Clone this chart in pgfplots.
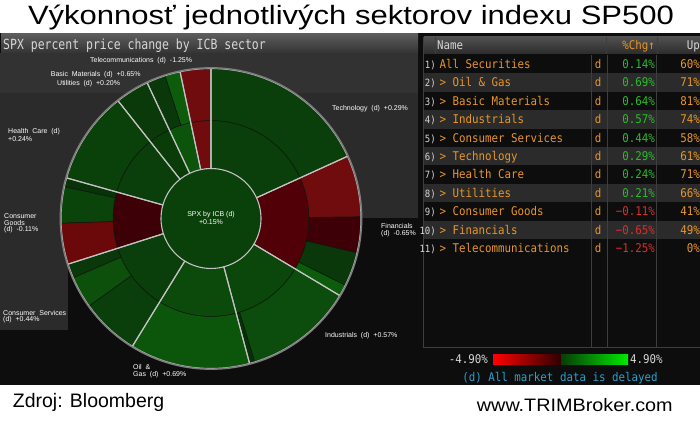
\documentclass[border=0pt]{standalone}
\usepackage{fontspec}
\setmainfont{Liberation Sans}
\newfontfamily\titlefont{Liberation Sans}[FakeStretch=1.17]
\newfontfamily\wwwfont{Liberation Sans}[FakeStretch=1.1]
\newfontfamily\bbfont{DejaVu Sans Mono}[FakeStretch=0.9]
\newfontfamily\hdfont{DejaVu Sans Mono}[FakeStretch=0.82]
\usepackage{pgfplots}
\pgfplotsset{compat=1.18}
\usepackage{pgfplotstable}

\definecolor{bborange}{RGB}{232,150,40}
\definecolor{bbgreen}{RGB}{40,190,40}
\definecolor{bbred}{RGB}{220,45,45}
\definecolor{bbgray}{RGB}{43,43,43}
\definecolor{bbgraylight}{RGB}{50,50,50}
\definecolor{bbblack}{RGB}{13,13,13}
\definecolor{bbtext}{RGB}{215,215,215}
\definecolor{bbcyan}{RGB}{40,160,205}
\definecolor{bbcol}{RGB}{62,62,62}
\definecolor{sepdark}{RGB}{14,24,14}
\definecolor{sepline}{RGB}{195,195,195}
\definecolor{outerline}{RGB}{125,125,125}

% wedge marks: geometry from the data row (angles a,b; radii ri,ro; colour R,G,B)
\newcommand{\wedgecolour}{%
  \pgfmathtruncatemacro\wRi{\wR}%
  \pgfmathtruncatemacro\wGi{\wG}%
  \pgfmathtruncatemacro\wBi{\wB}%
  \definecolor{wedgefill}{RGB}{\wRi,\wGi,\wBi}%
  \pgfsetfillcolor{wedgefill}%
}
\newcommand{\wedgepath}{%
  \pgfpathmoveto{\pgfpointpolar{\wa}{\wri pt}}%
  \pgfpatharc{\wa}{\wb}{\wri pt}%
  \pgfpathlineto{\pgfpointpolar{\wb}{\wro pt}}%
  \pgfpatharc{\wb}{\wa}{\wro pt}%
  \pgfpathclose
}
\pgfdeclareplotmark{wedge}{\wedgecolour\wedgepath\pgfusepathqfillstroke}
\pgfdeclareplotmark{wedgeline}{\wedgepath\pgfusepathqstroke}
\pgfdeclareplotmark{disc}{\wedgecolour\pgfpathcircle{\pgfpointorigin}{\wro pt}\pgfusepathqfill}

% centre
\pgfplotstableread{
x y a b ri ro R G B
211 218.5 0 360 1 50 10 64 10
}\centre

% ring 1: ICB sectors
\pgfplotstableread{
x y a b ri ro R G B
211 218.5 24.5 90 50 98 10 62 10
211 218.5 90 101.9 50 98 112 12 14
211 218.5 101.9 115.2 50 98 12 84 12
211 218.5 115.2 128.3 50 98 10 60 10
211 218.5 128.3 164.3 50 98 10 62 10
211 218.5 164.3 197.7 50 98 60 0 6
211 218.5 197.7 238.4 50 98 10 62 10
211 218.5 238.4 284.9 50 98 12 74 12
211 218.5 284.9 329.1 50 98 11 70 11
211 218.5 329.1 384.5 50 98 80 0 6
}\ringone

% ring 2: sub-sectors
\pgfplotstableread{
x y a b ri ro R G B
211 218.5 24.5 90 98 150 10 62 10
211 218.5 90 101.9 98 150 112 12 14
211 218.5 101.9 107.9 98 150 12 92 12
211 218.5 107.9 115.2 98 150 10 56 10
211 218.5 115.2 128.3 98 150 10 58 10
211 218.5 128.3 164.3 98 150 10 64 10
211 218.5 164.3 167.8 98 150 8 50 8
211 218.5 167.8 181.8 98 150 10 68 10
211 218.5 181.8 197.7 98 150 106 8 10
211 218.5 197.7 203.3 98 150 10 56 10
211 218.5 203.3 215.7 98 150 12 80 12
211 218.5 215.7 238.4 98 150 10 62 10
211 218.5 238.4 284.9 98 150 12 86 12
211 218.5 284.9 287.0 98 150 8 48 8
211 218.5 287.0 329.1 98 150 12 76 12
211 218.5 329.1 333.6 98 150 12 92 12
211 218.5 333.6 346.8 98 150 10 56 10
211 218.5 346.8 360.7 98 150 62 0 6
211 218.5 360.7 384.5 98 150 112 12 14
}\ringtwo

% sector outlines
\pgfplotstableread{
x y a b ri ro R
211 218.5 24.5 90 50 150 1
211 218.5 90 101.9 50 150 2
211 218.5 101.9 115.2 50 150 3
211 218.5 115.2 128.3 50 150 4
211 218.5 128.3 164.3 50 150 5
211 218.5 164.3 197.7 50 150 6
211 218.5 197.7 238.4 50 150 7
211 218.5 238.4 284.9 50 150 8
211 218.5 284.9 329.1 50 150 9
211 218.5 329.1 384.5 50 150 10
}\outlines

\pgfplotstableread{
x y a b ri ro R
211 218.5 0 360 150.6 150.6 1
}\outerring

\pgfplotsset{
  wedgevis/.style={
    scatter, only marks, point meta=explicit,
    point meta min=0, point meta max=300,
    visualization depends on={\thisrow{a}\as\wa},
    visualization depends on={\thisrow{b}\as\wb},
    visualization depends on={\thisrow{ri}\as\wri},
    visualization depends on={\thisrow{ro}\as\wro},
  },
  wedgecol/.style={
    visualization depends on={\thisrow{R}\as\wR},
    visualization depends on={\thisrow{G}\as\wG},
    visualization depends on={\thisrow{B}\as\wB},
  },
}

\begin{document}
\begin{tikzpicture}
% ---------- backgrounds ----------
\begin{scope}[x=1pt,y=-1pt,shift={(0,420pt)}]
\fill[white] (0,0) rectangle (700,420);
\fill[bbblack] (0,33) rectangle (700,385);
% left panel
\fill[bbgray] (0,53) rectangle (418,218);
\fill[bbgraylight] (0,53) rectangle (418,93);
\fill[bbgray] (0,218) rectangle (68,330);
\shade[top color={rgb,255:red,92;green,92;blue,92}, bottom color={rgb,255:red,52;green,52;blue,52}] (1,34) rectangle (418,53);
% right table
\shade[top color={rgb,255:red,80;green,80;blue,80}, bottom color={rgb,255:red,44;green,44;blue,44}] (424,37) rectangle (700,54);
\foreach \k in {2,4,6,8,10} {
  \fill[bbgray] (424,{55+(\k-1)*18.4}) rectangle (700,{55+\k*18.4});
}
\draw[bbcol, line width=0.8pt] (435.5,37) -- (435.5,54);
\draw[bbcol, line width=0.8pt] (606,37) -- (606,54);
\draw[bbcol, line width=0.8pt] (657,37) -- (657,54);
\draw[bbcol, line width=0.8pt] (591.7,55) -- (591.7,347);
\draw[bbcol, line width=0.8pt] (607.7,55) -- (607.7,347);
\draw[bbcol, line width=0.8pt] (656.7,55) -- (656.7,347);
\draw[bbcol, line width=0.8pt] (423.5,37) -- (423.5,347) -- (700,347);
% colour scale
\shade[left color={rgb,255:red,255;green,0;blue,0}, right color={rgb,255:red,45;green,0;blue,0}] (493,354) rectangle (561,364);
\shade[left color={rgb,255:red,8;green,60;blue,8}, right color={rgb,255:red,0;green,235;blue,0}] (561,354) rectangle (628,364);
\end{scope}

% ---------- sunburst (data) ----------
\begin{axis}[at={(0,0)}, anchor=south west, x=1pt, y=1pt, y dir=reverse,
  xmin=0, xmax=700, ymin=0, ymax=420, hide axis, clip=false]
\addplot[wedgevis, wedgecol, mark=disc, scatter/use mapped color={draw=sepdark}]
  table[x=x, y=y, meta=R] {\centre};
\addplot[wedgevis, wedgecol, mark=wedge,
  scatter/use mapped color={draw=sepdark, line width=0.5pt}]
  table[x=x, y=y, meta=R] {\ringone};
\addplot[wedgevis, wedgecol, mark=wedge,
  scatter/use mapped color={draw=sepdark, line width=0.5pt}]
  table[x=x, y=y, meta=R] {\ringtwo};
\addplot[wedgevis, mark=wedgeline,
  scatter/use mapped color={draw=sepline, line width=1.1pt}]
  table[x=x, y=y, meta=R] {\outlines};
\addplot[wedgevis, mark=wedgeline,
  scatter/use mapped color={draw=outerline, line width=1.6pt}]
  table[x=x, y=y, meta=R] {\outerring};
\end{axis}

% ---------- texts ----------
\begin{scope}[x=1pt,y=-1pt,shift={(0,420pt)}]
\node[anchor=base, inner sep=0, font=\titlefont\fontsize{26.5}{29}\selectfont] at (351,25) {Výkonnosť jednotlivých sektorov indexu SP500};
\node[anchor=base west, inner sep=0, font=\fontsize{19.5}{22}\selectfont] at (12.7,407.3) {Zdroj: Bloomberg};
\node[anchor=base west, inner sep=0, font=\wwwfont\fontsize{18}{20}\selectfont] at (476.7,411) {www.TRIMBroker.com};

\node[anchor=base west, inner sep=0, text=bbtext, font=\hdfont\fontsize{14}{16}\selectfont] at (3,49.5) {SPX percent price change by ICB sector};

% sunburst labels
\begin{scope}[every node/.style={inner sep=0, text=white, font=\fontsize{7}{7.5}\selectfont}]
\node[anchor=west] at (90,61) {Telecommunications~~(d)~~-1.25\%};
\node[anchor=west] at (50.7,74.3) {Basic~~Materials~~(d)~~+0.65\%};
\node[anchor=west] at (57,83.3) {Utilities~~(d)~~+0.20\%};
\node[anchor=west] at (8,131.7) {Health~~Care~~(d)};
\node[anchor=west] at (8,139.3) {+0.24\%};
\node[anchor=west] at (4,215.7) {Consumer};
\node[anchor=west] at (4,222.7) {Goods};
\node[anchor=west] at (4,230) {(d)~~-0.11\%};
\node[anchor=west] at (3,313.3) {Consumer~~Services};
\node[anchor=west] at (3,320) {(d)~~+0.44\%};
\node[anchor=west] at (133,367.3) {Oil~~\&};
\node[anchor=west] at (133,374.3) {Gas~~(d)~~+0.69\%};
\node[anchor=west] at (325,335.3) {Industrials~~(d)~~+0.57\%};
\node[anchor=west] at (381,226) {Financials};
\node[anchor=west] at (381,233.3) {(d)~~-0.65\%};
\node[anchor=west] at (332,109) {Technology~~(d)~~+0.29\%};
\node at (211,214.3) {SPX by ICB (d)};
\node at (211,221.7) {+0.15\%};
\end{scope}

% table
\begin{scope}[every node/.style={inner sep=0, font=\bbfont\fontsize{12}{14}\selectfont}]
\node[anchor=base west, text=bbtext] at (437,50) {Name};
\node[anchor=base east, text=bborange] at (655,50) {\%Chg↑};
\node[anchor=base east, text=bbtext] at (700,50) {Up};
\foreach \k/\nm/\chg/\cc/\up in {
 1/All Securities/0.14/bbgreen/60,
 2/> Oil \& Gas/0.69/bbgreen/71,
 3/> Basic Materials/0.64/bbgreen/81,
 4/> Industrials/0.57/bbgreen/74,
 5/> Consumer Services/0.44/bbgreen/58,
 6/> Technology/0.29/bbgreen/61,
 7/> Health Care/0.24/bbgreen/71,
 8/> Utilities/0.21/bbgreen/66,
 9/> Consumer Goods/−0.11/bbred/41,
 10/> Financials/−0.65/bbred/49,
 11/> Telecommunications/−1.25/bbred/0} {
  \pgfmathsetmacro\yy{64.2+(\k-1)*18.4+4.3}
  \node[anchor=base east, text=bbtext, font=\bbfont\fontsize{10}{12}\selectfont] at (436,\yy) {\k)};
  \node[anchor=base west, text=bborange] at (439.5,\yy) {\nm};
  \node[anchor=base, text=bborange] at (598,\yy) {d};
  \node[anchor=base east, text=\cc] at (655,\yy) {\chg\%};
  \node[anchor=base east, text=bborange] at (700,\yy) {\up\%};
}
\node[anchor=base east, text=bbtext] at (488,363.5) {-4.90\%};
\node[anchor=base west, text=bbtext] at (630,363.5) {4.90\%};
\node[anchor=base, text=bbcyan] at (560,381.5) {(d) All market data is delayed};
\end{scope}
\end{scope}

\pgfresetboundingbox
\path[use as bounding box] (0,0) rectangle (700pt,420pt);
\end{tikzpicture}
\end{document}
